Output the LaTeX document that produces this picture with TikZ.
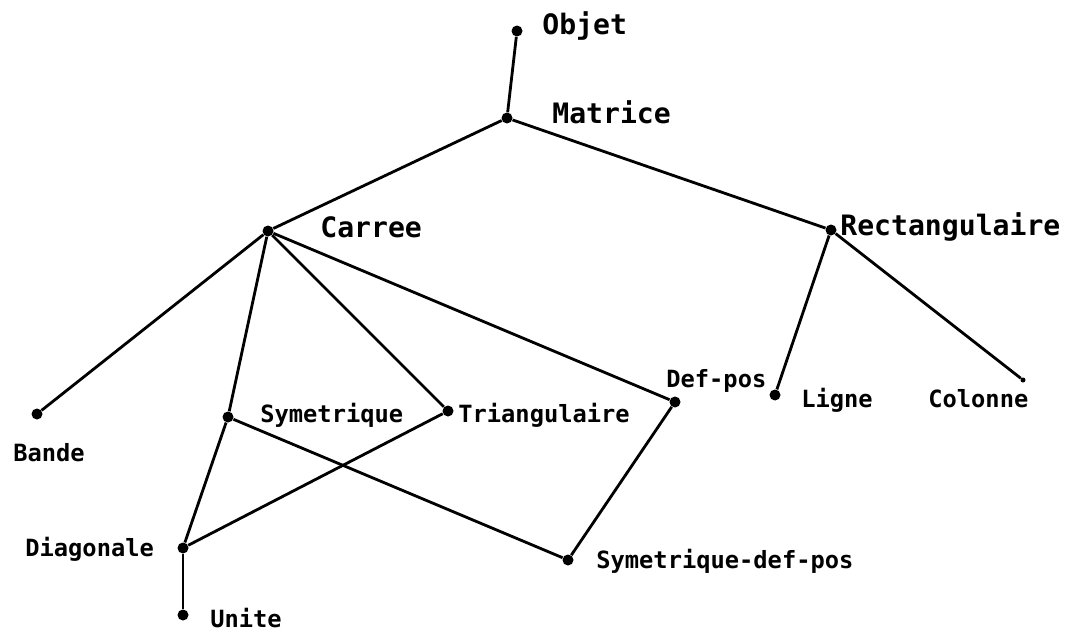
\documentclass[tikz,border=0pt]{standalone}
\usepackage{fontspec}
\newfontfamily\plotfont{DejaVu Sans Mono}
\begin{document}
\begin{tikzpicture}[
    dot/.style={circle, fill, inner sep=0pt, minimum size=0.22cm},
    enddot/.style={circle, fill, inner sep=0pt, minimum size=0.1cm},
    biglabel/.style={anchor=base west, inner sep=0pt, font=\plotfont\bfseries\fontsize{16}{18}\selectfont},
    smalllabel/.style={anchor=base west, inner sep=0pt, font=\plotfont\bfseries\fontsize{13.5}{16}\selectfont},
    link/.style={line width=1.6pt}
]
\useasboundingbox (0,0) rectangle (21.38,12.66);

% Classes - top
\node[dot] (objet) at (10.34, 12.04) {};
\node[dot] (matrice) at (10.14, 10.30) {};
\node[dot] (carree) at (5.36, 8.04) {};
\node[dot] (rectangulaire) at (16.62, 8.06) {};

% Classes - middle row
\node[dot] (bande) at (0.74, 4.38) {};
\node[dot] (symetrique) at (4.56, 4.32) {};
\node[dot] (triangulaire) at (8.96, 4.44) {};
\node[dot] (defpos) at (13.50, 4.62) {};
\node[dot] (ligne) at (15.50, 4.76) {};
\node[enddot] (colonne) at (20.46, 5.06) {};

% Classes - bottom
\node[dot] (diagonale) at (3.66, 1.70) {};
\node[dot] (unite) at (3.66, 0.36) {};
\node[dot] (symdefpos) at (11.36, 1.46) {};

% Labels
\node[biglabel] (objet-l) at (10.84, 11.96) {Objet};
\node[biglabel] (matrice-l) at (11.04, 10.20) {Matrice};
\node[biglabel] (carree-l) at (6.40, 7.92) {Carree};
\node[biglabel] (rectangulaire-l) at (16.80, 7.96) {Rectangulaire};
\node[smalllabel] (bande-l) at (0.26, 3.44) {Bande};
\node[smalllabel] (symetrique-l) at (5.20, 4.22) {Symetrique};
\node[smalllabel] (triangulaire-l) at (9.16, 4.22) {Triangulaire};
\node[smalllabel] (defpos-l) at (13.32, 4.92) {Def-pos};
\node[smalllabel] (ligne-l) at (16.02, 4.52) {Ligne};
\node[smalllabel] (colonne-l) at (18.56, 4.52) {Colonne};
\node[smalllabel] (diagonale-l) at (0.50, 1.54) {Diagonale};
\node[smalllabel] (unite-l) at (4.20, 0.12) {Unite};
\node[smalllabel] (symdefpos-l) at (11.92, 1.30) {Symetrique-def-pos};

% Inheritance links
\draw[link] (objet) -- (matrice);
\draw[link] (matrice) -- (carree);
\draw[link] (matrice) -- (rectangulaire);
\draw[link] (carree) -- (bande);
\draw[link] (carree) -- (symetrique);
\draw[link] (carree) -- (triangulaire);
\draw[link] (carree) -- (defpos);
\draw[link] (rectangulaire) -- (ligne);
\draw[link] (rectangulaire) -- (colonne);
\draw[link] (symetrique) -- (diagonale);
\draw[link] (symetrique) -- (symdefpos);
\draw[link] (triangulaire) -- (diagonale);
\draw[link] (defpos) -- (symdefpos);
\draw[link] (diagonale) -- (unite);

\end{tikzpicture}
\end{document}
